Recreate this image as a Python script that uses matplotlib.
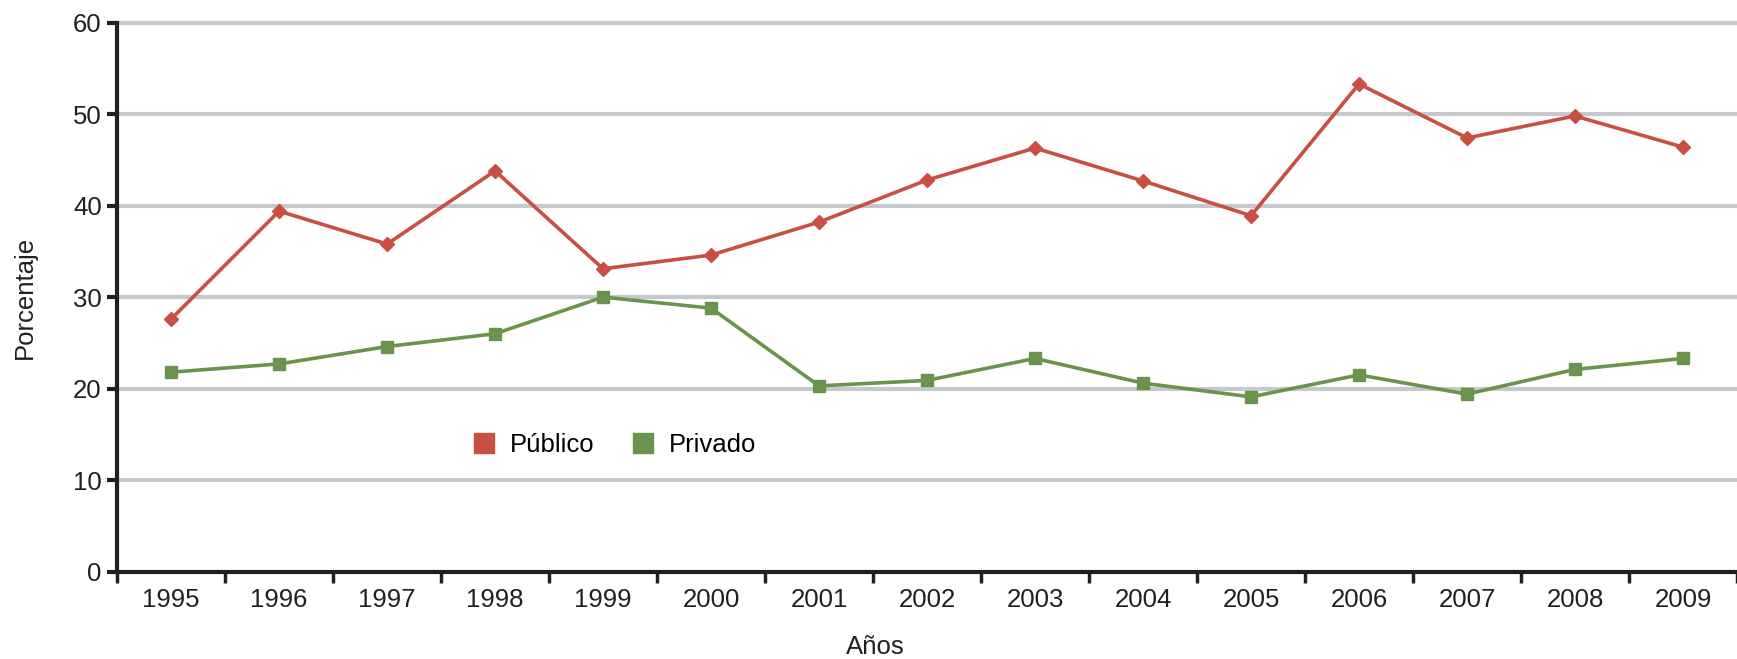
import matplotlib
matplotlib.use("Agg")
import matplotlib.pyplot as plt
import numpy as np

years = ["1995", "1996", "1997", "1998", "1999", "2000", "2001", "2002",
         "2003", "2004", "2005", "2006", "2007", "2008", "2009"]
publico = [27.6, 39.4, 35.8, 43.8, 33.1, 34.6, 38.2, 42.8,
           46.3, 42.7, 38.9, 53.3, 47.4, 49.8, 46.4]
privado = [21.8, 22.7, 24.6, 26.0, 30.0, 28.8, 20.3, 20.9,
           23.3, 20.6, 19.1, 21.5, 19.4, 22.1, 23.3]
y_ticks = [0, 10, 20, 30, 40, 50, 60]

RED = "#c94f43"
GREEN = "#6a934e"
GRID = "#c5c9cb"
INK = "#231f20"
FS = 18.5

plt.rcParams["font.family"] = ["Liberation Sans", "DejaVu Sans"]

fig = plt.figure(figsize=(17.37, 6.59), dpi=100)
ax = fig.add_axes([0.0674, 0.1326, 0.9326, 0.833])

x = np.arange(len(years))
ax.plot(x, publico, color=RED, lw=2.6, marker="D", ms=7, label="Público",
        zorder=3, clip_on=False)
ax.plot(x, privado, color=GREEN, lw=2.6, marker="s", ms=9, label="Privado",
        zorder=3, clip_on=False)

ax.set_xlim(-0.5, len(years) - 0.5)
ax.set_ylim(0, 60)
ax.set_yticks(y_ticks)
for t in y_ticks[1:]:
    ax.axhline(t, color=GRID, lw=3, zorder=1, clip_on=False)

# category boundaries as ticks, labels centred
ax.set_xticks(np.arange(len(years) + 1) - 0.5)
ax.set_xticklabels([])
ax.set_xticks(x, minor=True)
ax.set_xticklabels(years, minor=True)
ax.tick_params(axis="x", which="major", length=8, width=2.5, color=INK, direction="out")
ax.tick_params(axis="x", which="minor", length=0, pad=12, labelsize=FS, labelcolor=INK)
ax.tick_params(axis="y", length=7, width=3, color=INK, labelsize=FS,
               labelcolor=INK, pad=4)

for s in ("top", "right"):
    ax.spines[s].set_visible(False)
for s in ("left", "bottom"):
    ax.spines[s].set_linewidth(3)
    ax.spines[s].set_color(INK)
    ax.spines[s].set_zorder(4)

ax.set_ylabel("Porcentaje", fontsize=FS, color=INK, labelpad=26)
ax.set_xlabel("Años", fontsize=FS, color=INK)
ax.xaxis.set_label_coords(0.468, -0.115)

ax.legend(loc="center left", bbox_to_anchor=(0.206, 0.23), ncol=2, frameon=False,
          fontsize=FS, handlelength=0.8, handletextpad=0.6, columnspacing=1.5)
leg = ax.get_legend()
for h in leg.legend_handles:
    h.set_linestyle("none")
    h.set_marker("s")
    h.set_markersize(14)

fig.savefig("out.png", dpi=100)
